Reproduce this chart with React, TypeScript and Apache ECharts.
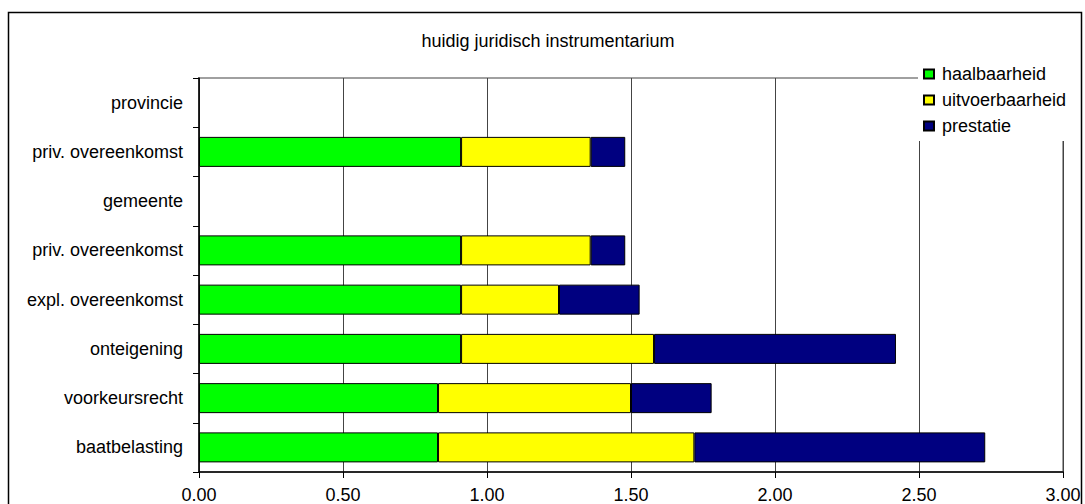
import React, { useEffect, useRef } from "react";
import * as echarts from "echarts";

const title = "huidig juridisch instrumentarium";
const categories = [
  "provincie",
  "priv. overeenkomst",
  "gemeente",
  "priv. overeenkomst",
  "expl. overeenkomst",
  "onteigening",
  "voorkeursrecht",
  "baatbelasting",
];
const haalbaarheid = [null, 0.91, null, 0.91, 0.91, 0.91, 0.83, 0.83];
const uitvoerbaarheid = [null, 0.45, null, 0.45, 0.34, 0.67, 0.67, 0.89];
const prestatie = [null, 0.12, null, 0.12, 0.28, 0.84, 0.28, 1.01];
const seriesNames = ["haalbaarheid", "uitvoerbaarheid", "prestatie"];
const seriesColors = ["#00ff00", "#ffff00", "#000080"];
const xTicks = { min: 0, max: 3, interval: 0.5 };

const FONT = "'Liberation Sans', Arial, sans-serif";
const FS = 18;

export default function App() {
  const ref = useRef<HTMLDivElement>(null);
  useEffect(() => {
    document.body.style.margin = "0";
    document.body.style.overflow = "hidden";
    const chart = echarts.init(ref.current!, null, { renderer: "svg" });
    const values = [haalbaarheid, uitvoerbaarheid, prestatie];
    chart.setOption({
      animation: false,
      backgroundColor: "#ffffff",
      textStyle: { fontFamily: FONT },
      title: {
        text: title,
        left: 543,
        textAlign: "center",
        top: 27,
        textStyle: { fontSize: FS, fontWeight: "normal", color: "#000", fontFamily: FONT },
      },
      legend: {
        orient: "vertical",
        left: 918,
        top: 58,
        padding: [7, 22, 6, 5],
        backgroundColor: "#ffffff",
        itemGap: 8,
        itemWidth: 10,
        itemHeight: 9,
        icon: "rect",
        z: 10,
        selectedMode: false,
        textStyle: { fontSize: FS, color: "#000", fontFamily: FONT, padding: [0, 0, 0, 3] },
        data: seriesNames,
      },
      grid: {
        left: 199,
        right: 22,
        top: 78,
        bottom: 32,
        show: true,
        borderColor: "#a0a0a0",
        borderWidth: 2,
        backgroundColor: "transparent",
      },
      xAxis: {
        type: "value",
        min: xTicks.min,
        max: xTicks.max,
        interval: xTicks.interval,
        axisLine: { show: true, lineStyle: { color: "#000", width: 1.5 } },
        axisTick: { show: true, length: 6, lineStyle: { color: "#000" } },
        splitLine: { show: true, lineStyle: { color: "#444", width: 1 } },
        axisLabel: {
          fontSize: FS,
          color: "#000",
          margin: 14,
          fontFamily: FONT,
          formatter: (v: number) => v.toFixed(2),
        },
      },
      yAxis: {
        type: "category",
        inverse: true,
        data: categories,
        axisLine: { show: true, lineStyle: { color: "#000", width: 1.5 } },
        axisTick: { show: true, length: 6, lineStyle: { color: "#000" } },
        axisLabel: { fontSize: FS, color: "#000", margin: 16, fontFamily: FONT },
      },
      series: seriesNames.map((name, i) => ({
        name,
        type: "bar",
        stack: "total",
        barWidth: 30,
        data: values[i],
        itemStyle: { color: seriesColors[i], borderColor: "#000", borderWidth: 1 },
        emphasis: { disabled: true },
      })),
      graphic: [
        {
          type: "rect",
          shape: { x: 8.5, y: 12.5, width: 1073, height: 520 },
          style: { fill: "none", stroke: "#000", lineWidth: 1.5 },
          silent: true,
          z: 100,
        },
      ],
    });
    return () => chart.dispose();
  }, []);
  return <div ref={ref} style={{ width: 1085, height: 504 }} />;
}
